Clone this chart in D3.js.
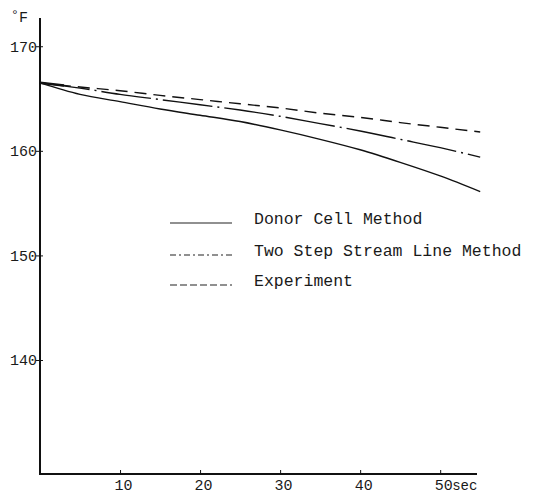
<!DOCTYPE html>
<html>
<head>
<meta charset="utf-8">
<script src="https://cdn.jsdelivr.net/npm/d3@7/dist/d3.min.js"></script>
<style>
  html, body { margin: 0; padding: 0; background: #fff; }
  svg { display: block; }
  text { font-family: "Liberation Mono", "DejaVu Sans Mono", monospace; fill: #1a1a1a; }
</style>
</head>
<body>
<svg id="chart" width="534" height="497"></svg>
<script>
// ---- data ----
const times = [0, 5, 10, 15, 20, 25, 30, 35, 40, 45, 50, 55];
const donorCell = [166.5, 165.4, 164.7, 164.0, 163.4, 162.8, 162.0, 161.1, 160.1, 158.9, 157.6, 156.1];
const twoStep   = [166.5, 166.0, 165.4, 164.9, 164.4, 163.9, 163.3, 162.6, 161.9, 161.1, 160.3, 159.4];
const experiment= [166.5, 166.1, 165.75, 165.3, 164.9, 164.5, 164.1, 163.6, 163.2, 162.7, 162.25, 161.8];
const yTicks = [140, 150, 160, 170];
const xTicks = [10, 20, 30, 40, 50];
const seriesNames = ["Donor Cell Method", "Two Step Stream Line Method", "Experiment"];

const svg = d3.select("#chart");
const x = d3.scaleLinear().domain([0, 54.6]).range([40, 477]);
const y = d3.scaleLinear().domain([129.1, 172.7]).range([474, 18]);

// axes
svg.append("line").attr("x1", x(0)).attr("x2", x(0)).attr("y1", y(172.7)).attr("y2", y(129.1))
  .attr("stroke", "#111").attr("stroke-width", 2);
svg.append("line").attr("x1", x(0) - 1).attr("x2", x(54.6)).attr("y1", y(129.1)).attr("y2", y(129.1))
  .attr("stroke", "#111").attr("stroke-width", 2);

// y ticks
const yAxis = d3.axisLeft(y).tickValues(yTicks).tickSize(0).tickPadding(3).tickFormat(d3.format("d"));
const yg = svg.append("g").attr("transform", `translate(${x(0)},0)`).call(yAxis);
yg.select(".domain").remove();
yg.selectAll("text").style("font-size", "15px").style("font-family", "Liberation Mono, monospace").attr("fill", "#1a1a1a");
yg.selectAll(".tick").append("line").attr("x1", -4).attr("x2", 3).attr("stroke", "#111").attr("stroke-width", 1);

// x ticks
const xAxis = d3.axisBottom(x).tickValues(xTicks).tickSize(0).tickPadding(5).tickFormat(d3.format("d"));
const xg = svg.append("g").attr("transform", `translate(0,${y(129.1)})`).call(xAxis);
xg.select(".domain").remove();
xg.selectAll("text").style("font-size", "15px").style("font-family", "Liberation Mono, monospace")
  .attr("fill", "#1a1a1a").attr("dx", 3);
xg.selectAll(".tick").append("line").attr("y1", -4).attr("y2", 0).attr("stroke", "#111").attr("stroke-width", 1);

svg.append("text").attr("x", x(50) + 12).attr("y", 490).style("font-size", "14px").text("sec");

// unit label
svg.append("text").attr("x", 11).attr("y", 19).style("font-size", "13px").text("°");
svg.append("text").attr("x", 19).attr("y", 22).style("font-size", "15px").text("F");

// lines
const line = d3.line().x((d, i) => x(times[i])).y(d => y(d)).curve(d3.curveMonotoneX);
const styles = [
  { data: donorCell, dash: null, legDash: null },
  { data: twoStep, dash: "50,5,2,5", legDash: "6,3,2,3" },
  { data: experiment, dash: "12,7", legDash: "7,3" }
];
styles.forEach(s => {
  svg.append("path").datum(s.data).attr("d", line).attr("fill", "none")
    .attr("stroke", "#111").attr("stroke-width", 1.4)
    .attr("stroke-dasharray", s.dash);
});
// thick start segment
svg.append("line").attr("x1", x(0)).attr("x2", x(3)).attr("y1", y(166.5)).attr("y2", y(166.25))
  .attr("stroke", "#111").attr("stroke-width", 2.5);

// legend
const legY = [219, 251, 281];
styles.forEach((s, i) => {
  svg.append("line").attr("x1", 170).attr("x2", 232).attr("y1", legY[i] + 4).attr("y2", legY[i] + 4)
    .attr("stroke", "#222").attr("stroke-width", 1.1).attr("stroke-dasharray", s.legDash);
  svg.append("text").attr("x", 254).attr("y", legY[i] + 5).style("font-size", "16.5px").text(seriesNames[i]);
});
</script>
</body>
</html>
